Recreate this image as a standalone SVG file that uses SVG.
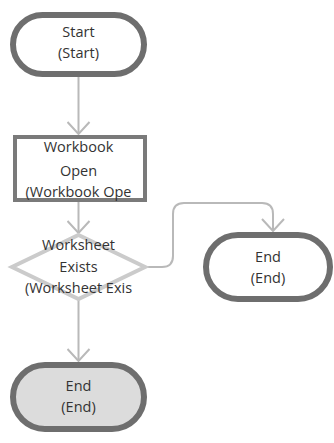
<svg xmlns="http://www.w3.org/2000/svg" width="334" height="443" viewBox="0 0 334 443">
<style>
.term{fill:#ffffff;stroke:#6e6e6e;stroke-width:6}
.proc{fill:#ffffff;stroke:#7a7a7a;stroke-width:4}
.dec{fill:#ffffff;stroke:#cbcbcb;stroke-width:4}
.conn{fill:none;stroke:#b9b9b9;stroke-width:2}
text{font-family:"Open Sans","Noto Sans",sans-serif;font-size:14.5px;fill:#333333;text-anchor:middle}
</style>
<defs>
<marker id="arr" viewBox="0 0 14 24" refX="13" refY="12" markerWidth="14" markerHeight="24" markerUnits="userSpaceOnUse" orient="auto">
<path d="M1,1 L13,12 L1,23" fill="none" stroke="#b9b9b9" stroke-width="2"/>
</marker>
</defs>
<rect width="334" height="443" fill="#ffffff"/>
<g id="connectors">
<path class="conn" d="M78.5,77 V134" marker-end="url(#arr)"/>
<path class="conn" d="M78.5,202 V233" marker-end="url(#arr)"/>
<path class="conn" d="M145,267 H162 Q173,267 173,256 V214 Q173,203 184,203 H262 Q273,203 273,214 V231" marker-end="url(#arr)"/>
<path class="conn" d="M78.5,300 V361" marker-end="url(#arr)"/>
</g>
<g id="start">
<rect class="term" x="13" y="15" width="131" height="59" rx="29.5"/>
<text x="78.5" y="37">Start</text>
<text x="78.5" y="58">(Start)</text>
</g>
<g id="workbookOpen">
<rect class="proc" x="15" y="137" width="130" height="63"/>
<text x="78.5" y="152">Workbook</text>
<text x="78.5" y="176">Open</text>
<text x="78.5" y="197">(Workbook Ope</text>
</g>
<g id="worksheetExists">
<polygon class="dec" points="78.5,235 145,267 78.5,299 12,267"/>
<text x="78.5" y="250">Worksheet</text>
<text x="78.5" y="272">Exists</text>
<text x="78.5" y="293">(Worksheet Exis</text>
</g>
<g id="endRight">
<rect class="term" x="206" y="235" width="124" height="64" rx="32"/>
<text x="268" y="262">End</text>
<text x="268" y="283">(End)</text>
</g>
<g id="endBottom">
<rect class="term" x="13" y="365" width="131" height="64" rx="32" style="fill:#dcdcdc"/>
<text x="78.5" y="391">End</text>
<text x="78.5" y="412">(End)</text>
</g>
</svg>
